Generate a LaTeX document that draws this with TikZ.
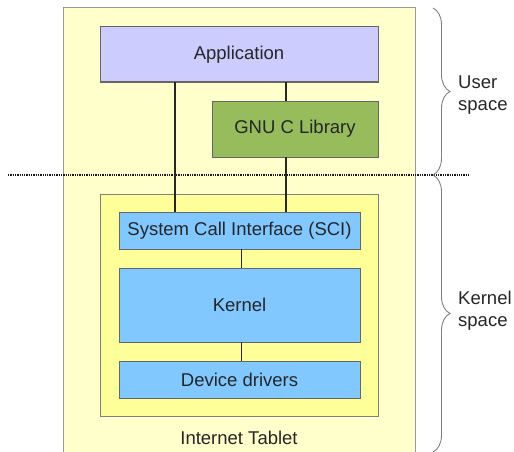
\documentclass[tikz,border=0pt]{standalone}
\usepackage{fontspec}
\setmainfont{Liberation Sans}
\usetikzlibrary{decorations.pathreplacing}
\definecolor{tabfill}{HTML}{FFFFCC}
\definecolor{kbfill}{HTML}{FFFF99}
\definecolor{appfill}{HTML}{CCCCFF}
\definecolor{gnufill}{HTML}{96BC5C}
\definecolor{bluefill}{HTML}{80C8FF}
\definecolor{bord}{HTML}{666666}
\definecolor{txt}{HTML}{262626}
\begin{document}
\begin{tikzpicture}[x=1pt,y=-1pt,
  every node/.style={font=\fontsize{18.5}{22}\selectfont, text=txt},
  box/.style={draw=bord, line width=1pt, inner sep=0pt, outer sep=0pt},
  conn/.style={draw=black!85, line width=1.3pt},
  brc/.style={draw=gray, line width=0.9pt, decorate, decoration={brace, amplitude=17pt}}]
\useasboundingbox (0,0) rectangle (514,452);
\clip (0,0) rectangle (514,452);
\node[box, fill=tabfill, draw=gray!80, minimum width=352pt, minimum height=452pt] (tab) at (239.5,234) {};
\node[box, fill=kbfill, draw=gray, minimum width=278pt, minimum height=222pt] (kb) at (239,305) {};
\node[box, fill=appfill, minimum width=278pt, minimum height=55pt] (app) at (239,54.5) {Application};
\node[box, fill=gnufill, minimum width=166pt, minimum height=56pt] (gnu) at (295,129) {GNU C Library};
\node[box, fill=bluefill, minimum width=241pt, minimum height=37pt] (sci) at (239.5,230.5) {System Call Interface (SCI)};
\node[box, fill=bluefill, minimum width=241pt, minimum height=74pt] (ker) at (239.5,305) {Kernel};
\node[box, fill=bluefill, minimum width=241pt, minimum height=37pt] (dd) at (239.5,379.5) {Device drivers};
\node (it) at (239,438) {Internet Tablet};
\coordinate (ca) at (175,0);
\coordinate (cb) at (286,0);
\coordinate (cc) at (241.5,0);
\coordinate (dl) at (8,175);
\coordinate (dr) at (470,175);
\draw[black!90, line width=1.3pt, densely dotted] (dl) -- (dr);
\draw[conn] (app.south -| ca) -- (sci.north -| ca);
\draw[conn] (app.south -| cb) -- (gnu.north -| cb);
\draw[conn] (gnu.south -| cb) -- (sci.north -| cb);
\draw[conn] (sci.south -| cc) -- (ker.north -| cc);
\draw[conn] (ker.south -| cc) -- (dd.north -| cc);
\coordinate (ub1) at (433,8);
\coordinate (ub2) at (433,175);
\coordinate (kb1) at (433,175);
\coordinate (kb2) at (433,452);
\draw[brc] (ub1) -- (ub2);
\draw[brc] (kb1) -- (kb2);
\node[anchor=west, align=left, inner sep=0pt] (us) at (458,95) {User\\space};
\node[anchor=west, align=left, inner sep=0pt] (ks) at (458,311) {Kernel\\space};
\end{tikzpicture}
\end{document}
